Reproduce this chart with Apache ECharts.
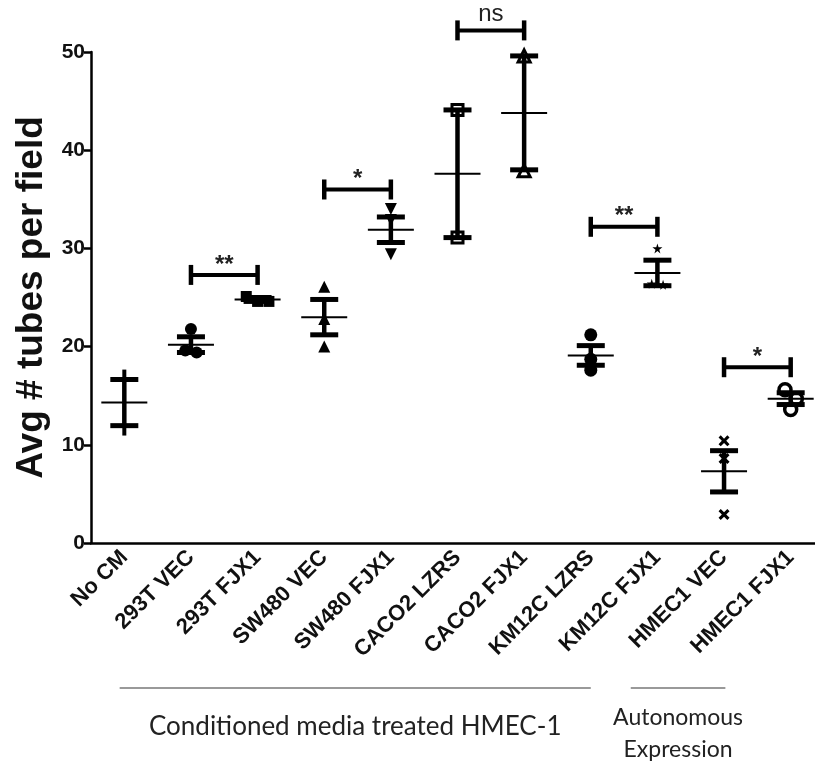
<!DOCTYPE html>
<html>
<head>
<meta charset="utf-8">
<script src="https://cdn.jsdelivr.net/npm/echarts@6/dist/echarts.min.js"></script>
<style>
  html, body { margin: 0; padding: 0; background: #fff; overflow: hidden; }
  #main { width: 824px; height: 767px; }
</style>
</head>
<body>
<div id="main"></div>
<script>
// groups on the x axis
var categories = ['No CM', '293T VEC', '293T FJX1', 'SW480 VEC', 'SW480 FJX1',
  'CACO2 LZRS', 'CACO2 FJX1', 'KM12C LZRS', 'KM12C FJX1', 'HMEC1 VEC', 'HMEC1 FJX1'];

// individual values per group
var points = [
  [17.2, 11.4],
  [21.8, 19.6, 19.4],
  [25.1, 24.6, 24.6],
  [26.1, 22.8, 20.0],
  [34.0, 32.9, 29.4],
  [44.1, 31.1],
  [49.6, 37.9],
  [21.2, 18.7, 17.6],
  [30.0, 26.4, 26.3],
  [10.4, 8.6, 2.9],
  [15.6, 14.7, 13.6]
];

// mean and SEM per group
var means = [14.3, 20.2, 24.8, 23.0, 31.9, 37.6, 43.8, 19.1, 27.5, 7.3, 14.7];
var sems  = [2.35, 0.8, 0.2, 1.8, 1.3, 6.5, 5.8, 1.0, 1.3, 2.1, 0.6];

// significance brackets: [from, to, height, label]
var brackets = [
  [1, 2, 27.3, '**'],
  [3, 4, 36.0, '*'],
  [5, 6, 52.2, 'ns'],
  [7, 8, 32.2, '**'],
  [9, 10, 17.9, '*']
];

var yTicks = [0, 10, 20, 30, 40, 50];

var starPath = 'path://M50,0 L61,35 L98,35 L68,57 L79,91 L50,70 L21,91 L32,57 L2,35 L39,35 Z';
var crossPath = 'path://M20,0 L50,30 L80,0 L100,20 L70,50 L100,80 L80,100 L50,70 L20,100 L0,80 L30,50 L0,20 Z';

// marker look per group
var markers = [
  { symbol: 'rect', size: [4, 9], fill: '#000' },
  { symbol: 'circle', size: 12, fill: '#000' },
  { symbol: 'rect', size: 11, fill: '#000' },
  { symbol: 'triangle', size: 12, fill: '#000' },
  { symbol: 'triangle', size: 12, fill: '#000', rotate: 180 },
  { symbol: 'rect', size: 11, fill: '#fff', border: 3 },
  { symbol: 'triangle', size: 12, fill: '#fff', border: 3 },
  { symbol: 'circle', size: 13, fill: '#000' },
  { symbol: starPath, size: 10, fill: '#000' },
  { symbol: crossPath, size: 11, fill: '#000' },
  { symbol: 'circle', size: 12, fill: '#fff', border: 3.5 }
];

// spread points that sit close together, like the prism scatter does
function jitter(vals) {
  var idx = vals.map(function (v, i) { return i; });
  idx.sort(function (a, b) { return vals[b] - vals[a]; });
  var off = [];
  var i = 0;
  while (i < idx.length) {
    var j = i;
    while (j + 1 < idx.length && vals[idx[j]] - vals[idx[j + 1]] < 1.0) j++;
    var k = j - i + 1;
    for (var m = i; m <= j; m++) off[idx[m]] = k > 1 ? (m - i - (k - 1) / 2) * 0.17 : 0;
    i = j + 1;
  }
  return off;
}

var series = [];
points.forEach(function (vals, g) {
  var off = jitter(vals);
  var mk = markers[g];
  series.push({
    type: 'scatter',
    xAxisIndex: 1,
    symbol: mk.symbol,
    symbolSize: mk.size,
    symbolRotate: mk.rotate || 0,
    itemStyle: { color: mk.fill, borderColor: '#000', borderWidth: mk.border || 0, opacity: 1 },
    data: vals.map(function (v, i) { return [g + off[i], v]; }),
    z: 3,
    silent: true
  });
});

// mean line + SEM bars
series.push({
  type: 'custom',
  xAxisIndex: 1,
  z: 5,
  silent: true,
  data: means.map(function (m, i) { return [i, m, m - sems[i], m + sems[i]]; }),
  renderItem: function (params, api) {
    var c = api.coord([api.value(0), api.value(1)]);
    var lo = api.coord([api.value(0), api.value(2)]);
    var hi = api.coord([api.value(0), api.value(3)]);
    var x = c[0];
    return {
      type: 'group',
      children: [
        { type: 'line', shape: { x1: x - 23, y1: c[1], x2: x + 23, y2: c[1] }, style: { stroke: '#000', lineWidth: 2 } },
        { type: 'line', shape: { x1: x, y1: hi[1], x2: x, y2: lo[1] }, style: { stroke: '#000', lineWidth: 4.5 } },
        { type: 'line', shape: { x1: x - 14, y1: hi[1], x2: x + 14, y2: hi[1] }, style: { stroke: '#000', lineWidth: 5 } },
        { type: 'line', shape: { x1: x - 14, y1: lo[1], x2: x + 14, y2: lo[1] }, style: { stroke: '#000', lineWidth: 5 } }
      ]
    };
  }
});

// significance brackets
series.push({
  type: 'custom',
  xAxisIndex: 1,
  z: 6,
  silent: true,
  clip: false,
  data: brackets.map(function (b) { return [b[0], b[1], b[2]]; }),
  renderItem: function (params, api) {
    var b = brackets[params.dataIndex];
    var p1 = api.coord([api.value(0), api.value(2)]);
    var p2 = api.coord([api.value(1), api.value(2)]);
    var ns = b[3] === 'ns';
    return {
      type: 'group',
      children: [
        { type: 'line', shape: { x1: p1[0], y1: p1[1], x2: p2[0], y2: p2[1] }, style: { stroke: '#000', lineWidth: 4 } },
        { type: 'line', shape: { x1: p1[0], y1: p1[1] - 10, x2: p1[0], y2: p1[1] + 10 }, style: { stroke: '#000', lineWidth: 4.5 } },
        { type: 'line', shape: { x1: p2[0], y1: p2[1] - 10, x2: p2[0], y2: p2[1] + 10 }, style: { stroke: '#000', lineWidth: 4.5 } },
        {
          type: 'text',
          x: (p1[0] + p2[0]) / 2,
          y: ns ? p1[1] - 4 : p1[1] + 2,
          style: {
            text: b[3],
            fill: '#222',
            font: ns ? 'normal 24px "Liberation Sans", Arial' : 'bold 24px "Liberation Sans", Arial',
            textAlign: 'center',
            textVerticalAlign: 'bottom'
          }
        }
      ]
    };
  }
});

var chart = echarts.init(document.getElementById('main'));
chart.setOption({
  backgroundColor: '#fff',
  animation: false,
  grid: { left: 91, right: 0, top: 52, bottom: 224, containLabel: false },
  xAxis: [
    {
      type: 'category',
      data: categories,
      boundaryGap: true,
      axisLine: { onZero: false, lineStyle: { color: '#000', width: 2.5 } },
      axisTick: { alignWithLabel: true, length: 9, lineStyle: { color: '#000', width: 2.5 } },
      axisLabel: {
        rotate: 45, interval: 0, margin: 11,
        color: '#111', fontSize: 22, fontWeight: 'bold', fontFamily: '"Liberation Sans", Arial'
      }
    },
    { type: 'value', min: -0.5, max: 10.5, show: false }
  ],
  yAxis: {
    type: 'value',
    min: yTicks[0],
    max: yTicks[yTicks.length - 1],
    interval: 10,
    name: 'Avg # tubes per field',
    nameLocation: 'middle',
    nameGap: 40,
    nameTextStyle: { fontSize: 37, fontWeight: 'bold', color: '#111', fontFamily: '"Liberation Sans", Arial' },
    axisLine: { show: true, onZero: false, lineStyle: { color: '#000', width: 2.5 } },
    axisTick: { show: true, length: 7, lineStyle: { color: '#000', width: 2.5 } },
    splitLine: { show: false },
    axisLabel: { color: '#111', fontSize: 21, fontWeight: 'bold', fontFamily: '"Liberation Sans", Arial', margin: 6 }
  },
  series: series
});

// group captions under the axis labels
function px(i) { return chart.convertToPixel({ xAxisIndex: 1 }, i); }
var lineY = 688;
chart.setOption({
  graphic: [
    { type: 'line', shape: { x1: px(-0.07), y1: lineY, x2: px(7), y2: lineY }, style: { stroke: '#777', lineWidth: 1.5 } },
    { type: 'line', shape: { x1: px(7.6), y1: lineY, x2: px(9.02), y2: lineY }, style: { stroke: '#777', lineWidth: 1.5 } },
    { type: 'text', x: (px(-0.07) + px(7)) / 2, y: 727, style: { text: 'Conditioned media treated HMEC-1', fill: '#222', font: '26px Lato, "Open Sans", sans-serif', textAlign: 'center', textVerticalAlign: 'middle' } },
    { type: 'text', x: (px(7.6) + px(9.02)) / 2, y: 718, style: { text: 'Autonomous', fill: '#222', font: '23px Lato, "Open Sans", sans-serif', textAlign: 'center', textVerticalAlign: 'middle' } },
    { type: 'text', x: (px(7.6) + px(9.02)) / 2, y: 750, style: { text: 'Expression', fill: '#222', font: '23px Lato, "Open Sans", sans-serif', textAlign: 'center', textVerticalAlign: 'middle' } }
  ]
});
</script>
</body>
</html>
